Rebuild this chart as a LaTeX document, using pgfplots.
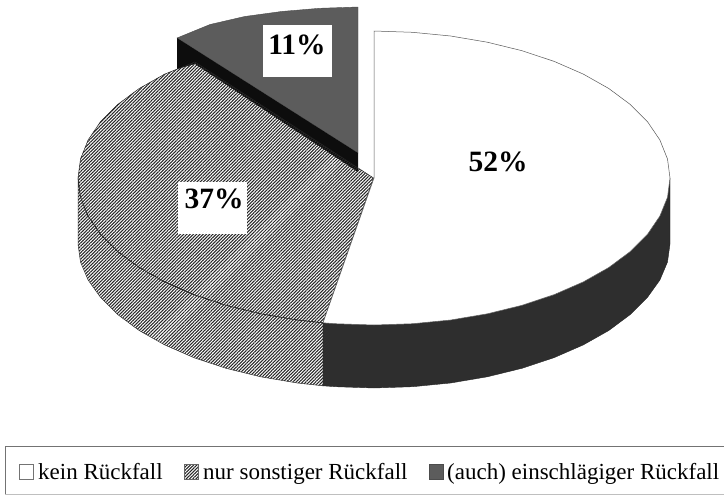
\documentclass[border=0pt]{standalone}
\usepackage{fontspec}
\setmainfont{Liberation Serif}
\usepackage{pgfplots}
\pgfplotsset{compat=1.18}
\usetikzlibrary{patterns.meta}
\begin{document}
\begin{tikzpicture}[x=1pt,y=1pt]
\useasboundingbox (0,0) rectangle (724,496);
\tikzset{hat/.style={pattern={Lines[angle=45,distance=2.3pt,line width=1.05pt]},pattern color=black!85}}
\begin{axis}[at={(0,0)},anchor=south west,scale only axis,width=724pt,height=496pt,
  xmin=0,xmax=724,ymin=0,ymax=496,y dir=reverse,axis lines=none,clip=false,no markers]
% 11% slice, exploded
\addplot[fill=black!64,draw=black!70,line width=0.4pt] coordinates {(358,7)(319.4,8.3)(281.4,11.5)(244.7,16.5)(210,24.5)(177,38)(358,153)} --cycle;
% its black cut face
\addplot[fill=black!95,draw=none] coordinates {(177,38)(358,153)(358,172)(195,64)(177,69)} --cycle;
% 37% side
\addplot[hat,draw=black!80,line width=0.5pt] coordinates {(78,178)(78,244)(80.5,262)(88.1,280)(100.5,297.3)(117.7,314.5)(139.2,330.5)(164.7,344.9)(193.8,357.6)(226,368.3)(260.7,376.8)(297.4,383)(323,385.8)(323,322.8)(297.4,320)(260.7,313.8)(226,305.3)(193.8,294.6)(164.7,281.9)(139.2,267.5)(117.7,251.5)(100.5,234.3)(88.1,216)(80.5,197.2)} --cycle;
% 37% top
\addplot[hat,draw=black!85,line width=0.5pt] coordinates {(373.5,178)(323,322.8)(297.4,320)(260.7,313.8)(226,305.3)(193.8,294.6)(164.7,281.9)(139.2,267.5)(117.7,251.5)(100.5,234.3)(88.1,216)(80.5,197.2)(78,178)(80.5,159)(88.1,140)(100.5,121.7)(117.7,104.5)(139.2,88.5)(164.7,74.1)(195,62)} --cycle;
% 52% side
\addplot[fill=black!82,draw=black!85,line width=0.4pt] coordinates {(323,322.8)(335.4,323.7)(374,325)(412.6,323.7)(450.6,320)(487.3,313.8)(522,305.3)(554.2,294.6)(583.3,281.9)(608.8,267.5)(630.3,251.5)(647.5,234.3)(659.9,216)(667.5,197.2)(670,178)(670,244)(667.5,262)(659.9,280)(647.5,297.3)(630.3,314.5)(608.8,330.5)(583.3,344.9)(554.2,357.6)(522,368.3)(487.3,376.8)(450.6,383)(412.6,386.7)(374,388)(335.4,386.7)(323,385.8)} --cycle;
% 52% top
\addplot[fill=white,draw=black!65,line width=0.5pt] coordinates {(374,178)(374,31)(412.6,32.3)(450.6,36)(487.3,42.2)(522,50.7)(554.2,61.4)(583.3,74.1)(608.8,88.5)(630.3,104.5)(647.5,121.7)(659.9,140)(667.5,159)(670,178)(667.5,197.2)(659.9,216)(647.5,234.3)(630.3,251.5)(608.8,267.5)(583.3,281.9)(554.2,294.6)(522,305.3)(487.3,313.8)(450.6,320)(412.6,323.7)(374,325)(335.4,323.7)(323,322.8)} --cycle;
% label boxes
\addplot[fill=white,draw=none] coordinates {(263,25)(332,25)(332,77)(263,77)} --cycle;
\addplot[fill=white,draw=none] coordinates {(178,182)(247,182)(247,234)(178,234)} --cycle;
% legend frame
\addplot[draw=black!55,line width=0.6pt] coordinates {(5,494)(5,446)(724,446)};
\addplot[draw=black!25,line width=0.5pt] coordinates {(5,494)(724,494)};
% legend swatches
\addplot[fill=white,draw=black!55,line width=0.5pt] coordinates {(19,464)(33,464)(33,479)(19,479)} --cycle;
\addplot[hat,draw=black!60,line width=0.4pt] coordinates {(184,464)(198,464)(198,479)(184,479)} --cycle;
\addplot[fill=black!64,draw=black!70,line width=0.4pt] coordinates {(429,464)(443,464)(443,479)(429,479)} --cycle;
\node[font=\fontsize{29.5}{30}\selectfont\bfseries] at (axis cs:297,45) {11\%};
\node[font=\fontsize{29.5}{30}\selectfont\bfseries] at (axis cs:214,199) {37\%};
\node[font=\fontsize{29.5}{30}\selectfont\bfseries] at (axis cs:498,162) {52\%};
\node[font=\fontsize{23}{24}\selectfont,anchor=base west,inner sep=0pt] at (axis cs:38,479) {kein Rückfall};
\node[font=\fontsize{23}{24}\selectfont,anchor=base west,inner sep=0pt] at (axis cs:203,479) {nur sonstiger Rückfall};
\node[font=\fontsize{23}{24}\selectfont,anchor=base west,inner sep=0pt] at (axis cs:447,479) {(auch) einschlägiger Rückfall};
\end{axis}
\end{tikzpicture}
\end{document}
